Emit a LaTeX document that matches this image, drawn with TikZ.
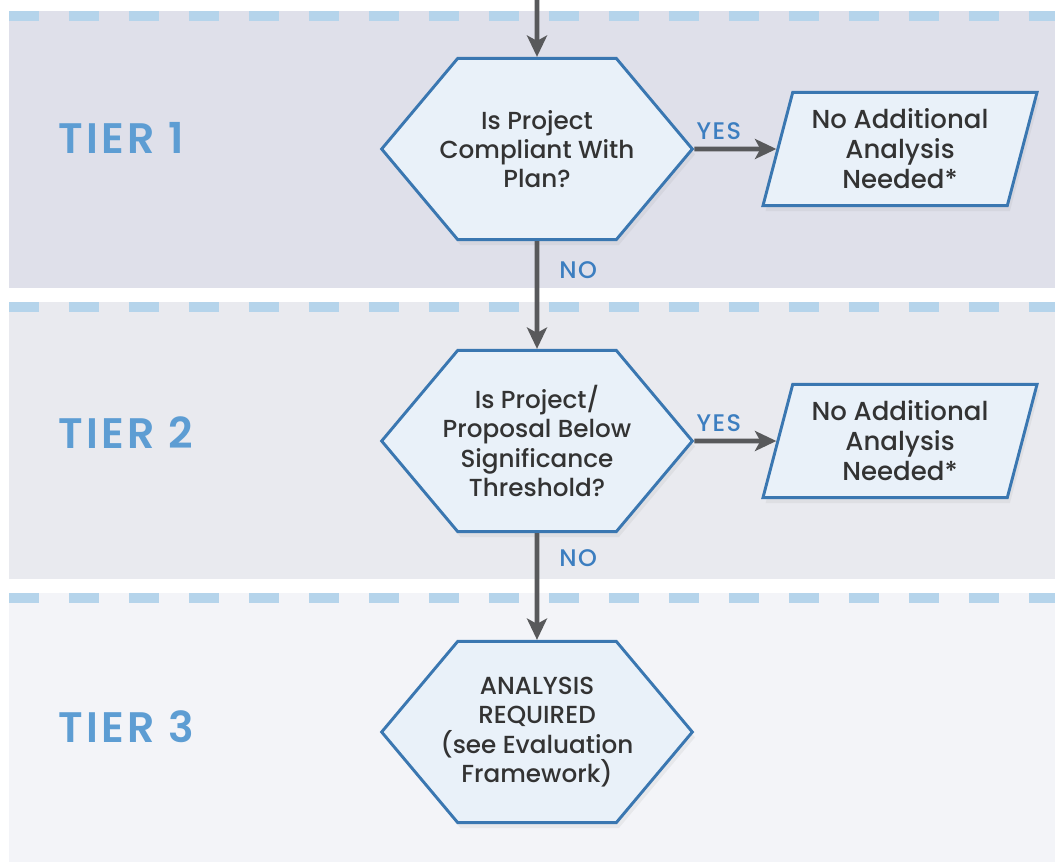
\documentclass[tikz,border=0pt]{standalone}
\usepackage{fontspec}
\setmainfont{Poppins}
\newfontfamily\bodyfont{Poppins Medium}
\newfontfamily\lblfont{Poppins Medium}[LetterSpace=6]
\newfontfamily\tierfont{Poppins SemiBold}[LetterSpace=8]
\usetikzlibrary{arrows.meta,positioning,shapes.geometric,shapes.symbols,shadows}
\definecolor{bandA}{HTML}{DFE0EA}
\definecolor{bandB}{HTML}{E9EAEF}
\definecolor{bandC}{HTML}{F3F4F8}
\definecolor{dashblue}{HTML}{B5D4EB}
\definecolor{boxfill}{HTML}{E9F1F9}
\definecolor{boxline}{HTML}{3A77B1}
\definecolor{arrgray}{HTML}{58595B}
\definecolor{lblblue}{HTML}{3C7EC0}
\definecolor{tierblue}{HTML}{5D9DD3}
\definecolor{txt}{HTML}{333333}

\begin{document}
\begin{tikzpicture}[x=0.75pt,y=-0.75pt,
    hx/.style={signal,signal to=east and west,signal pointer angle=100,draw=boxline,line width=2.2pt,fill=boxfill,
      minimum width=233pt,minimum height=136pt,inner xsep=-60pt,inner ysep=0pt,align=center,text=txt,font=\bodyfont\fontsize{18.5}{22}\selectfont,
      drop shadow={opacity=.1,shadow xshift=2pt,shadow yshift=-4pt}},
    pg/.style={trapezium,trapezium left angle=73,trapezium right angle=107,trapezium stretches=true,draw=boxline,line width=2.2pt,fill=boxfill,
      minimum width=206pt,minimum height=85pt,inner sep=0pt,align=center,text=txt,font=\bodyfont\fontsize{19.5}{22.5}\selectfont,
      drop shadow={opacity=.1,shadow xshift=2pt,shadow yshift=-4pt}},
    arr/.style={draw=arrgray,line width=3.5pt,-{Stealth[length=16pt,width=15pt,inset=4pt]}},
    lbl/.style={text=lblblue,font=\lblfont\fontsize{18}{20}\selectfont,inner sep=0pt},
    tier/.style={anchor=west,text=tierblue,font=\tierfont\fontsize{32}{36}\selectfont,inner sep=0pt},
    dsh/.style={dashblue,line width=7.5pt,dash pattern=on 22.5pt off 22.5pt}]
    \useasboundingbox (0,0) rectangle (1055,864);
    \fill[bandA] (9,11) rectangle (1055,288);
    \fill[bandB] (9,302) rectangle (1055,579);
    \fill[bandC] (9,593) rectangle (1055,862);
    \draw[dsh] (9,16) -- (1055,16);
    \draw[dsh] (9,307) -- (1055,307);
    \draw[dsh] (9,598) -- (1055,598);

    \node[tier] (t1) at (58,138) {TIER 1};
    \node[tier] (t2) at (58,433) {TIER 2};
    \node[tier] (t3) at (58,727) {TIER 3};

    \node[hx] (h1) at (537,149) {Is Project\\Compliant With\\Plan?};
    \node[hx] (h2) at (537,441) {Is Project/\\Proposal Below\\Significance\\Threshold?};
    \node[hx] (h3) at (537,732) {ANALYSIS\\REQUIRED\\(see Evaluation\\Framework)};
    \node[pg] (p1) at (900,149) {No Additional\\Analysis\\Needed*};
    \node[pg] (p2) at (900,441) {No Additional\\Analysis\\Needed*};
    \coordinate (top) at (537,0);

    \draw[arr] (top) -- (h1);
    \draw[arr] (h1) -- (p1) node[lbl,pos=.3,above=5pt] {YES};
    \draw[arr] (h1) -- (h2) node[lbl,pos=.27,right=15pt] {NO};
    \draw[arr] (h2) -- (p2) node[lbl,pos=.3,above=5pt] {YES};
    \draw[arr] (h2) -- (h3) node[lbl,pos=.23,right=15pt] {NO};
\end{tikzpicture}
\end{document}
